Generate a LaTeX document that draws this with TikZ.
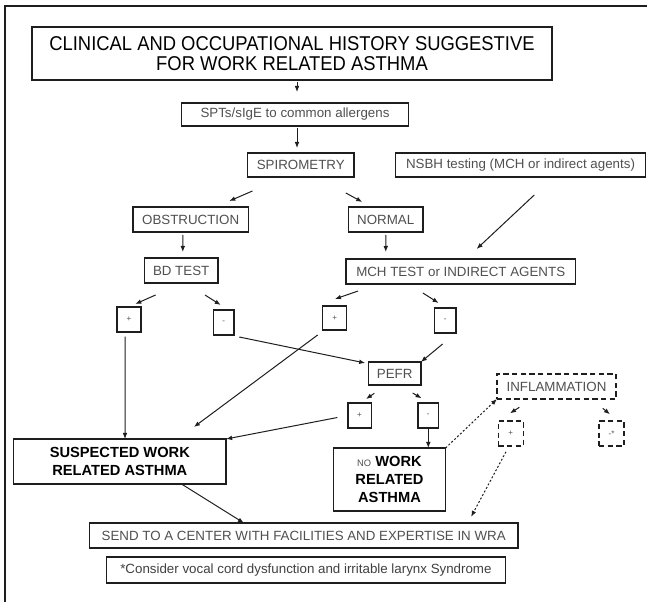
\documentclass[tikz,border=0pt]{standalone}
\usepackage{fontspec}
\setmainfont{Liberation Sans}
\newfontfamily\titlefont[FakeStretch=0.92]{Liberation Sans}
\usetikzlibrary{arrows.meta,calc}
\definecolor{txt}{HTML}{505050}
\definecolor{ln}{HTML}{1E1E1E}
% \bx[style]{x1}{y1}{x2}{y2}{name}{text}
\newcommand\bx[7][]{\node[box,#1,minimum width={(#4-#2)*0.75pt},minimum height={(#5-#3)*0.75pt}] (#6) at ({(#2+#4)/2},{(#3+#5)/2}) {#7};}
\begin{document}
\begin{tikzpicture}[x=0.75pt,y=-0.75pt,
  box/.style={draw=ln, line width=1.1pt, inner sep=0pt, outer sep=0pt, align=center, text=txt, font=\fontsize{10}{12}\selectfont},
  sbox/.style={font=\fontsize{6}{7}\selectfont},
  dbox/.style={dash pattern=on 4pt off 2.5pt},
  bigbox/.style={text=black, font=\fontsize{11}{13.3}\selectfont\bfseries},
  arr/.style={draw=ln, line width=0.75pt, -{Latex[length=4.5pt,width=3.5pt]}},
  dotarr/.style={arr, dash pattern=on 1.5pt off 1.5pt},
  frame/.style={draw=ln, line width=1pt}]
\useasboundingbox (0,0) rectangle (647,602);
\fill[white] (0,0) rectangle (647,602);
\draw[frame] (5,602) -- (5,6) -- (647,6);

% nodes
\bx[line width=1.5pt, text=black, font=\titlefont\fontsize{15}{15}\selectfont]{32}{27}{552}{80}{title}
  {CLINICAL AND OCCUPATIONAL HISTORY SUGGESTIVE\\FOR WORK RELATED ASTHMA}
\bx{181.5}{103}{408.5}{126}{spt}{SPTs/sIgE to common allergens}
\bx{247.6}{153}{354}{177}{spir}{SPIROMETRY}
\bx{395.3}{153}{645.7}{177}{nsbh}{NSBH testing (MCH or indirect agents)}
\bx{132.9}{207}{248.4}{232}{obs}{OBSTRUCTION}
\bx{348.6}{207}{422.9}{232}{norm}{NORMAL}
\bx{144.4}{258}{217.9}{283}{bd}{BD TEST}
\bx{345.8}{259}{575.6}{284}{mch}{MCH TEST or INDIRECT AGENTS}
\bx[sbox]{116.8}{307}{141.1}{332}{bdp}{+}
\bx[sbox]{213.3}{310}{233.9}{335}{bdm}{-}
\bx[sbox]{322.7}{306}{346.6}{330}{mchp}{+}
\bx[sbox]{434.5}{308}{455.9}{333}{mchm}{-}
\bx{368.4}{362}{420.9}{385}{pefr}{PEFR}
\bx[sbox]{347.8}{403}{371.3}{428}{pp}{+}
\bx[sbox]{418}{403}{438.6}{428}{pm}{-}
\bx[bigbox]{13.6}{439}{226.1}{484}{susp}{SUSPECTED WORK\\RELATED ASTHMA}
\bx[bigbox]{333.4}{448}{445.6}{511}{nowra}
  {{\fontsize{7}{8}\selectfont\mdseries\color{txt}NO} WORK\\RELATED\\ASTHMA}
\bx[dbox]{497}{374}{616}{399}{infl}{INFLAMMATION}
\bx[dbox,sbox]{498.3}{421}{523.3}{446}{ip}{+}
\bx[dbox,sbox]{599}{421}{624}{446}{im}{-*}
\bx{89.5}{523}{517.8}{548}{send}{SEND TO A CENTER WITH FACILITIES AND EXPERTISE IN WRA}
\bx[text=black!75]{106.5}{557}{505.4}{583}{note}{*Consider vocal cord dysfunction and irritable larynx Syndrome}

% connectors
\draw[arr, shorten <=1.5pt, shorten >=8.25pt] ($(title.south)+(5,0)$) -- ($(spt.north)+(2,0)$);
\draw[arr, shorten <=1.5pt, shorten >=3.75pt] ($(spt.south)+(2,0)$) -- ($(spir.north)+(-3.8,0)$);
\draw[arr, shorten <=26.4pt, shorten >=11.3pt] ($(spir.south)+(-16,0)$) -- ($(obs.north)+(24.85,0)$);
\draw[arr, shorten <=25pt, shorten >=7.9pt] ($(spir.south)+(15.7,0)$) -- ($(norm.north)+(-14.25,0)$);
\draw[arr, shorten <=19.7pt, shorten >=11pt] ($(nsbh.south)+(33,0)$) -- ($(mch.north)+(5.2,0)$);
\draw[arr, shorten <=2.25pt, shorten >=4.5pt] ($(obs.south)+(-7.85,0)$) -- ($(bd.north)+(1.65,0)$);
\draw[arr, shorten <=2.25pt, shorten >=5.25pt] (norm.south) -- ($(mch.north)+(-74.9,0)$);
\draw[arr, shorten <=22.2pt, shorten >=5.55pt] ($(bd.south)+(1.55,0)$) -- ($(bdp.north)+(-0.45,0)$);
\draw[arr, shorten <=16.7pt, shorten >=7pt] ($(bd.south)+(5.05,0)$) -- ($(bdm.north)+(4.95,0)$);
\draw[arr, shorten <=16pt, shorten >=16pt] ($(mch.south)+(-82.4,0)$) -- ($(mchp.north)+(-19.85,0)$);
\draw[arr, shorten <=12.5pt, shorten >=7pt] ($(mch.south)+(-51.9,0)$) -- ($(mchm.north)+(1.25,0)$);
\draw[arr, shorten <=3.5pt] ($(bdp.south)+(-3.95,0)$) -- ($(susp.north)+(5.15,0)$);
\draw[arr, shorten <=7.4pt] ($(bdm.south)+(6,0)$) -- ($(pefr.north west)+(-3.2,1)$);
\draw[arr, shorten <=13pt] (mchm.south east) -- (pefr.north east);
\draw[arr, shorten <=6.3pt, shorten >=15.1pt] ($(mchp.south)+(-10.25,0)$) -- ($(susp.north)+(57.9,0)$);
\draw[arr, shorten <=8pt] (pp.west) -- (susp.north east);
\draw[arr] (pm.south) -- (pm.south |- nowra.north);
\draw[dotarr] (nowra.north east) -- (infl.south west);
\draw[arr, shorten <=11.5pt, shorten >=10.65pt] ($(infl.south)+(-24.3,0)$) -- ($(ip.north)+(-12.7,0)$);
\draw[arr, shorten <=11pt, shorten >=8pt] ($(infl.south)+(34.9,0)$) -- ($(im.north)+(6.7,0)$);
\draw[dotarr, shorten <=4.9pt, shorten >=5.3pt] ($(ip.south)+(-1.75,0)$) -- ($(send.north)+(164.15,0)$);
\draw[arr] ($(susp.south)+(61.65,0)$) -- ($(send.north)+(-59.75,0)$);
\draw[arr, shorten <=11pt, shorten >=5.3pt] ($(pefr.south)+(-8.25,0)$) -- ($(pp.north)+(0.65,0)$);
\draw[arr, shorten <=11.8pt, shorten >=7pt] ($(pefr.south)+(4.45,0)$) -- ($(pm.north)+(1.3,0)$);
\end{tikzpicture}
\end{document}
